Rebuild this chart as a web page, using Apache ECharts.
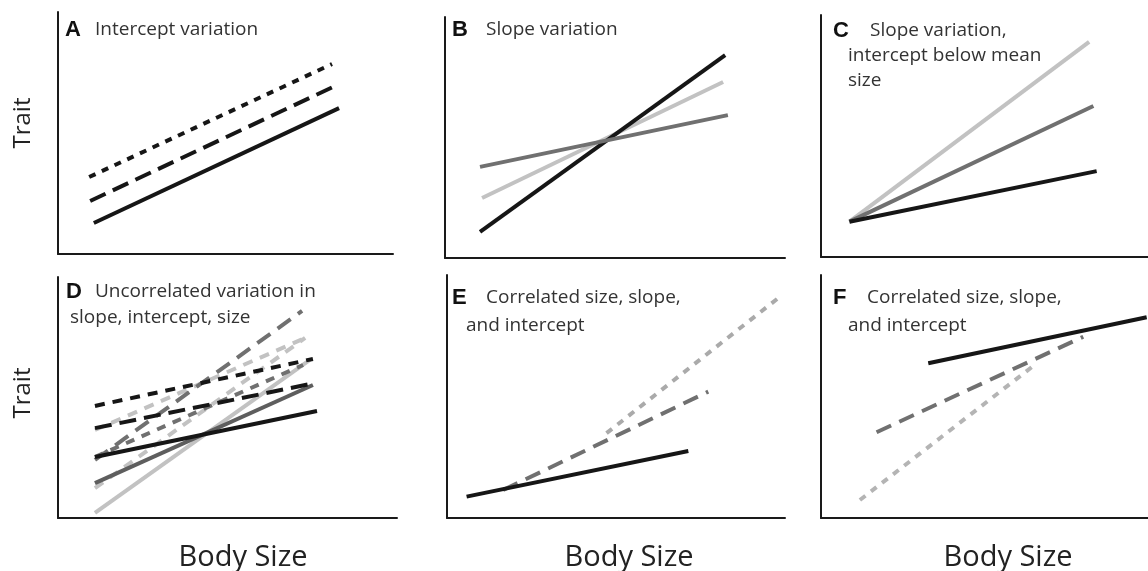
<!DOCTYPE html>
<html><head><meta charset="utf-8">
<script src="https://cdn.jsdelivr.net/npm/echarts@6/dist/echarts.min.js"></script>
<style>html,body{margin:0;padding:0;background:#fff}#c{width:1148px;height:571px}</style>
</head><body><div id="c"></div>
<script>
// ---- text ----
const panelLabels = ['A', 'B', 'C', 'D', 'E', 'F'];
const panelTitles = [
  ['Intercept variation'],
  ['Slope variation'],
  ['Slope variation,', 'intercept below mean', 'size'],
  ['Uncorrelated variation in', 'slope, intercept, size'],
  ['Correlated size, slope,', 'and intercept'],
  ['Correlated size, slope,', 'and intercept']
];
const xAxisTitle = 'Body Size';
const yAxisTitle = 'Trait';

// ---- data (x: body size 0-100, y: trait 0-100) ----
// A: intercept variation
const aSolid  = [[10.7, 12.8], [83.9, 60.3]];
const aDashed = [[9.6, 21.9], [82.7, 69.4]];
const aDotted = [[9.3, 31.8], [81.8, 78.5]];
// B: slope variation
const bMid   = [[10.3, 37.8], [83.2, 59.3]];
const bLight = [[10.9, 24.9], [81.8, 73.0]];
const bBlack = [[10.3, 10.8], [82.4, 84.2]];
// C: slope variation, intercept below mean size
const cLight = [[8.7, 14.6], [82.0, 88.9]];
const cMid   = [[8.7, 14.6], [83.3, 62.4]];
const cBlack = [[8.7, 14.6], [84.3, 35.5]];
// D: uncorrelated variation
const dBlackShort = [[10.9, 46.5], [75.2, 66.0]];
const dBlackLong  = [[10.9, 37.3], [75.8, 56.0]];
const dBlackSolid = [[10.9, 25.3], [76.4, 44.4]];
const dDarkLong   = [[10.9, 24.1], [72.0, 85.9]];
const dDarkShort  = [[10.9, 25.3], [72.3, 63.5]];
const dDarkSolid  = [[10.9, 14.5], [75.2, 55.2]];
const dLightDash1 = [[10.9, 36.5], [72.9, 74.7]];
const dLightDash2 = [[10.9, 12.4], [72.9, 74.7]];
const dLightSolid = [[10.9, 2.1], [74.3, 65.6]];
// E: correlated size, slope and intercept
const eBlack  = [[5.8, 8.8], [71.4, 27.6]];
const eDashed = [[16.6, 11.5], [77.3, 52.0]];
const eDotted = [[47.2, 34.9], [97.9, 90.4]];
// F: correlated size, slope and intercept
const fDotted = [[11.9, 7.4], [66.0, 63.7]];
const fDashed = [[17.0, 35.3], [80.2, 74.6]];
const fBlack  = [[32.8, 63.7], [99.6, 82.6]];

// ---- layout / styles ----
const grids = [
  {left: 58, top: 12, width: 335, height: 242},
  {left: 445, top: 17, width: 340, height: 241},
  {left: 821, top: 15, width: 327, height: 242},
  {left: 58, top: 277, width: 339, height: 241},
  {left: 447, top: 275, width: 338, height: 243},
  {left: 821, top: 275, width: 327, height: 243}
];
const BLACK = '#161616', DARK = '#707070', LIGHT = '#c2c2c2';
const SOLID = 'solid', LONG = [17, 8], DOT = [7, 7];

const lines = [
  [0, aSolid, BLACK, SOLID], [0, aDashed, BLACK, LONG], [0, aDotted, BLACK, DOT],
  [1, bLight, LIGHT, SOLID], [1, bBlack, BLACK, SOLID], [1, bMid, DARK, SOLID],
  [2, cLight, LIGHT, SOLID], [2, cMid, DARK, SOLID], [2, cBlack, BLACK, SOLID],
  [3, dLightSolid, LIGHT, SOLID], [3, dLightDash2, LIGHT, [10, 8]], [3, dLightDash1, LIGHT, [10, 8]],
  [3, dDarkSolid, '#5e5e5e', SOLID], [3, dDarkShort, DARK, [9, 8]], [3, dDarkLong, DARK, [16, 9]],
  [3, dBlackSolid, BLACK, SOLID], [3, dBlackLong, BLACK, LONG], [3, dBlackShort, BLACK, [10, 8]],
  [4, eDotted, '#aaaaaa', DOT], [4, eDashed, DARK, [16, 9]], [4, eBlack, BLACK, SOLID],
  [5, fDotted, '#b4b4b4', DOT], [5, fDashed, DARK, [16, 9]], [5, fBlack, BLACK, SOLID]
];

const axisBase = {
  type: 'value', min: 0, max: 100,
  axisLine: {show: true, onZero: false, lineStyle: {color: '#1a1a1a', width: 2}},
  axisTick: {show: false}, axisLabel: {show: false}, splitLine: {show: false}
};

const letterPos = [[65, 35], [452, 35], [833, 36], [66, 297], [452, 303], [833, 303]];
const titlePos = [
  [[95, 35]],
  [[486, 35]],
  [[870, 36], [848, 61], [848, 86]],
  [[95, 297], [70, 323]],
  [[486, 303], [466, 331]],
  [[867, 303], [848, 331]]
];
const bodySizeX = [243, 629, 1008];
const traitY = [123, 393];

const graphics = [];
panelLabels.forEach((l, i) => {
  graphics.push({type: 'text', left: letterPos[i][0], top: letterPos[i][1] - 16,
    style: {text: l, font: 'bold 22px "Liberation Sans", Arial, sans-serif', fill: '#111'}});
  panelTitles[i].forEach((t, j) => {
    graphics.push({type: 'text', left: titlePos[i][j][0], top: titlePos[i][j][1] - 15,
      style: {text: t, font: '19px "Open Sans", sans-serif', fill: '#333'}});
  });
});
bodySizeX.forEach(x => {
  graphics.push({type: 'text', x: x, y: 558,
    style: {text: xAxisTitle, font: '29px "Open Sans", sans-serif', fill: '#222',
      align: 'center', verticalAlign: 'middle', textAlign: 'center', textVerticalAlign: 'middle'}});
});
traitY.forEach(y => {
  graphics.push({type: 'text', x: 23, y: y, rotation: Math.PI / 2,
    style: {text: yAxisTitle, font: '24px "Open Sans", sans-serif', fill: '#222',
      align: 'center', verticalAlign: 'middle', textAlign: 'center', textVerticalAlign: 'middle'}});
});

const option = {
  animation: false,
  backgroundColor: '#fff',
  grid: grids,
  xAxis: grids.map((g, i) => Object.assign({gridIndex: i}, axisBase)),
  yAxis: grids.map((g, i) => Object.assign({gridIndex: i}, axisBase)),
  series: lines.map(([p, d, c, t], k) => ({
    type: 'line', xAxisIndex: p, yAxisIndex: p, data: d, symbol: 'none', silent: true,
    z: 2 + k * 0.01,
    lineStyle: {color: c, width: 4, type: t, cap: 'butt'}
  })),
  graphic: graphics
};
const chart = echarts.init(document.getElementById('c'), null, {renderer: 'canvas'});
chart.setOption(option);
</script></body></html>
